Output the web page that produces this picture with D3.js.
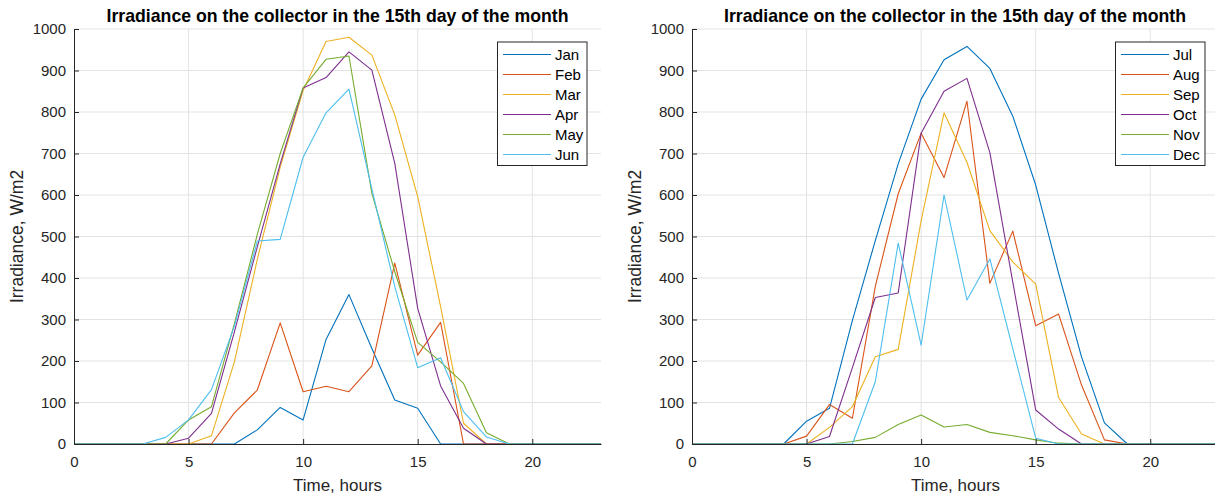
<!DOCTYPE html>
<html>
<head>
<meta charset="utf-8">
<script src="https://cdn.jsdelivr.net/npm/d3@7"></script>
<style>
  html, body { margin: 0; padding: 0; background: #fff; overflow: hidden; }
  svg { display: block; font-family: "Liberation Sans", Arial, Helvetica, sans-serif; }
</style>
</head>
<body>
<svg id="chart" width="1215" height="498"></svg>
<script>
// Hours of the day (0..23)
const hours = d3.range(0, 24);

// Irradiance on the collector, W/m2, for each hour of the 15th day
const janValues = [0,0,0,0,0,0,0,0,34,88,58,252,360,230,106,86,0,0,0,0,0,0,0,0];
const febValues = [0,0,0,0,0,0,0,75,130,292,126,139,126,188,436,214,293,0,0,0,0,0,0,0];
const marValues = [0,0,0,0,0,0,20,198,445,667,852,970,980,937,793,596,331,50,0,0,0,0,0,0];
const aprValues = [0,0,0,0,0,14,74,270,475,675,858,883,945,901,676,327,140,38,0,0,0,0,0,0];
const mayValues = [0,0,0,0,0,58,90,290,505,700,858,927,935,604,415,245,198,146,27,0,0,0,0,0];
const junValues = [0,0,0,0,16,58,131,284,489,493,691,798,855,615,379,184,208,78,17,0,0,0,0,0];

const julValues = [0,0,0,0,0,55,86,298,490,675,831,926,958,905,790,624,411,210,51,0,0,0,0,0];
const augValues = [0,0,0,0,0,19,95,62,380,603,749,642,826,387,513,285,313,142,10,0,0,0,0,0];
const sepValues = [0,0,0,0,0,0,40,90,210,228,538,798,679,514,439,385,112,24,0,0,0,0,0,0];
const octValues = [0,0,0,0,0,0,18,184,353,364,749,850,881,702,390,82,36,0,0,0,0,0,0,0];
const novValues = [0,0,0,0,0,0,0,6,16,47,70,41,47,28,20,10,2,0,0,0,0,0,0,0];
const decValues = [0,0,0,0,0,0,0,0,150,484,238,600,347,446,230,14,0,0,0,0,0,0,0,0];

const firstHalfNames = ["Jan", "Feb", "Mar", "Apr", "May", "Jun"];
const secondHalfNames = ["Jul", "Aug", "Sep", "Oct", "Nov", "Dec"];
const firstHalfValues = [janValues, febValues, marValues, aprValues, mayValues, junValues];
const secondHalfValues = [julValues, augValues, sepValues, octValues, novValues, decValues];

const xTicks = [0, 5, 10, 15, 20];
const yTicks = d3.range(0, 1001, 100);

const titleText = "Irradiance on the collector in the 15th day of the month";
const xLabelText = "Time, hours";
const yLabelText = "Irradiance, W/m2";

// default line colour order
const palette = ["#0072BD", "#D95319", "#EDB120", "#7E2F8E", "#77AC30", "#4DBEEE"];

const svg = d3.select("#chart");

function drawPanel(left, right, names, seriesList) {
  const top = 29, bottom = 444;
  const x = d3.scaleLinear().domain([0, 23]).range([left, right]);
  const y = d3.scaleLinear().domain([0, 1000]).range([bottom, top]);
  const g = svg.append("g");

  // grid
  g.append("g").selectAll("line").data(yTicks.filter(d => d > 0)).join("line")
    .attr("x1", left).attr("x2", right)
    .attr("y1", d => y(d)).attr("y2", d => y(d))
    .attr("stroke", "#e3e3e3").attr("stroke-width", 1);
  g.append("g").selectAll("line").data(xTicks.filter(d => d > 0)).join("line")
    .attr("y1", top).attr("y2", bottom)
    .attr("x1", d => x(d)).attr("x2", d => x(d))
    .attr("stroke", "#e3e3e3").attr("stroke-width", 1);

  // series
  const line = d3.line().x((d, i) => x(hours[i])).y(d => y(d));
  seriesList.forEach((vals, i) => {
    g.append("path").datum(vals)
      .attr("d", line)
      .attr("fill", "none")
      .attr("stroke", palette[i])
      .attr("stroke-width", 1.1)
      .attr("stroke-linejoin", "round");
  });

  // axes
  const xAxis = d3.axisBottom(x).tickValues(xTicks).tickFormat(d3.format("d"))
    .tickSizeInner(-5).tickSizeOuter(0).tickPadding(12);
  const yAxis = d3.axisLeft(y).tickValues(yTicks).tickFormat(d3.format("d"))
    .tickSizeInner(-5).tickSizeOuter(0).tickPadding(12);
  const gx = g.append("g").attr("transform", `translate(0,${bottom})`).call(xAxis);
  const gy = g.append("g").attr("transform", `translate(${left},0)`).call(yAxis);
  [gx, gy].forEach(a => {
    a.select(".domain").attr("stroke", "#262626").attr("stroke-width", 1);
    a.selectAll(".tick line").attr("stroke", "#262626");
    a.selectAll(".tick text").attr("fill", "#262626")
      .style("font-size", "15px")
      .style("font-family", "Liberation Sans, Arial, sans-serif");
  });
  gx.selectAll(".tick text").attr("dy", "0.71em");
  gy.selectAll(".tick text").attr("dx", "0").attr("x", -8);

  // title and labels
  const cx = (left + Math.min(right, 1218)) / 2;
  g.append("text").attr("x", cx).attr("y", 22)
    .attr("text-anchor", "middle").attr("font-weight", "bold")
    .attr("font-size", 17.7).attr("fill", "#000").text(titleText);
  g.append("text").attr("x", (left + right) / 2).attr("y", 491)
    .attr("text-anchor", "middle").attr("font-size", 17).attr("fill", "#262626")
    .text(xLabelText);
  g.append("text")
    .attr("transform", `translate(${left - 51},${(top + bottom) / 2}) rotate(-90)`)
    .attr("text-anchor", "middle").attr("font-size", 17.5).attr("fill", "#262626")
    .text(yLabelText);

  // legend
  const legW = 89.5, rowH = 20;
  const lx = right - 103.5, ly = 42;
  const lg = g.append("g").attr("transform", `translate(${lx},${ly})`);
  lg.append("rect").attr("x", 0).attr("y", 0)
    .attr("width", legW).attr("height", names.length * rowH + 3.5)
    .attr("fill", "#fff").attr("stroke", "#262626").attr("stroke-width", 1);
  names.forEach((n, i) => {
    const ry = 12.5 + i * rowH;
    lg.append("line").attr("x1", 5.5).attr("x2", 53.5).attr("y1", ry).attr("y2", ry)
      .attr("stroke", palette[i]).attr("stroke-width", 1.1);
    lg.append("text").attr("x", 57.5).attr("y", ry + 5.3)
      .attr("font-size", 15).attr("fill", "#000").text(n);
  });
}

drawPanel(74, 601, firstHalfNames, firstHalfValues);
drawPanel(692, 1219, secondHalfNames, secondHalfValues);
</script>
</body>
</html>
